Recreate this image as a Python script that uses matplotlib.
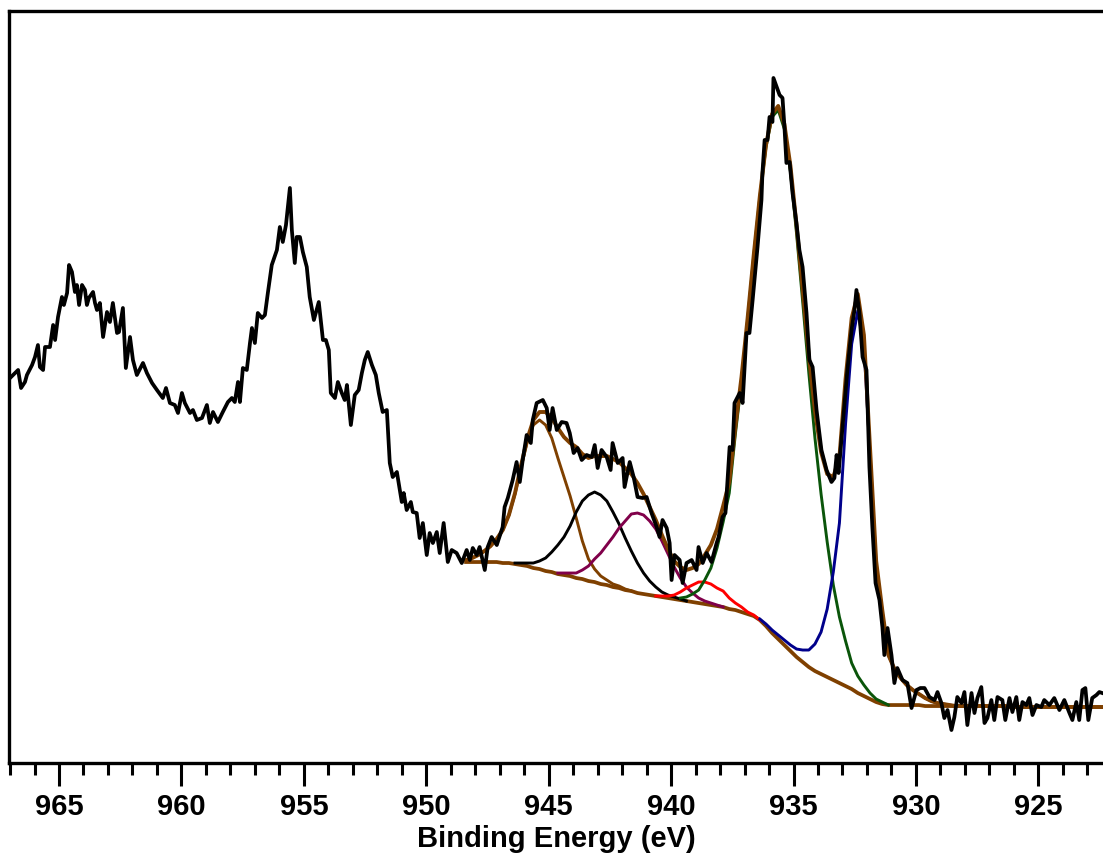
import numpy as np
import matplotlib
matplotlib.use('Agg')
import matplotlib.pyplot as plt
from matplotlib.ticker import MultipleLocator

plt.rcParams['font.family'] = ['Liberation Sans', 'DejaVu Sans']

# raw spectrum: binding energy (eV) and intensity (a.u.)
raw_be = [967.00, 966.67, 966.55, 966.39, 966.31, 966.10, 965.98, 965.86, 965.78, 965.65,
          965.57, 965.37, 965.24, 965.16, 965.04, 964.88, 964.80, 964.67, 964.59, 964.47,
          964.35, 964.27, 964.18, 964.06, 963.94, 963.86, 963.78, 963.61, 963.53, 963.45,
          963.33, 963.20, 963.04, 962.92, 962.80, 962.63, 962.55, 962.39, 962.27, 962.10,
          961.98, 961.82, 961.57, 961.41, 961.20, 961.00, 960.76, 960.63, 960.47, 960.27,
          960.14, 959.98, 959.86, 959.65, 959.53, 959.37, 959.16, 958.96, 958.84, 958.71,
          958.51, 958.31, 958.10, 957.94, 957.82, 957.69, 957.61, 957.49, 957.33, 957.20,
          957.12, 957.00, 956.88, 956.71, 956.59, 956.47, 956.31, 956.10, 955.98, 955.86,
          955.73, 955.57, 955.49, 955.37, 955.29, 955.16, 955.04, 954.88, 954.76, 954.59,
          954.39, 954.22, 954.10, 953.98, 953.90, 953.73, 953.61, 953.45, 953.33, 953.24,
          953.08, 952.92, 952.76, 952.63, 952.51, 952.39, 952.22, 952.06, 951.94, 951.78,
          951.61, 951.49, 951.37, 951.20, 951.00, 950.92, 950.80, 950.63, 950.55, 950.39,
          950.27, 950.14, 949.98, 949.86, 949.73, 949.57, 949.45, 949.29, 949.12, 948.96,
          948.76, 948.55, 948.35, 948.22, 948.10, 947.94, 947.82, 947.61, 947.49, 947.33,
          947.12, 946.88, 946.80, 946.67, 946.47, 946.31, 946.18, 946.06, 945.90, 945.73,
          945.65, 945.49, 945.24, 945.08, 944.96, 944.84, 944.67, 944.47, 944.27, 944.14,
          943.98, 943.82, 943.65, 943.45, 943.24, 943.12, 943.00, 942.84, 942.63, 942.47,
          942.39, 942.18, 941.98, 941.90, 941.69, 941.53, 941.37, 941.16, 941.00, 940.80,
          940.59, 940.47, 940.35, 940.18, 940.06, 939.98, 939.86, 939.65, 939.53, 939.37,
          939.16, 938.96, 938.88, 938.71, 938.55, 938.35, 938.14, 938.06, 937.90, 937.78,
          937.61, 937.49, 937.41, 937.20, 937.08, 936.92, 936.80, 936.67, 936.47, 936.31,
          936.27, 936.18, 936.06, 935.98, 935.86, 935.82, 935.69, 935.57, 935.45, 935.37,
          935.29, 935.16, 935.04, 934.88, 934.76, 934.63, 934.47, 934.35, 934.22, 934.06,
          933.86, 933.65, 933.45, 933.33, 933.24, 933.16, 933.00, 932.80, 932.63, 932.51,
          932.43, 932.31, 932.18, 932.02, 931.90, 931.78, 931.65, 931.49, 931.37, 931.29,
          931.16, 931.00, 930.88, 930.76, 930.55, 930.35, 930.18, 929.98, 929.82, 929.65,
          929.45, 929.24, 929.12, 928.96, 928.84, 928.71, 928.55, 928.43, 928.31, 928.14,
          928.02, 927.90, 927.73, 927.61, 927.49, 927.33, 927.20, 927.08, 926.92, 926.80,
          926.67, 926.47, 926.35, 926.18, 926.06, 925.90, 925.78, 925.65, 925.49, 925.37,
          925.24, 925.08, 924.88, 924.76, 924.55, 924.35, 924.14, 923.94, 923.73, 923.61,
          923.45, 923.33, 923.20, 923.08, 922.96, 922.80, 922.63, 922.51, 922.39]
raw_int = [387, 395, 377, 383, 390, 400, 408, 420, 398, 395,
           418, 418, 440, 425, 448, 468, 460, 472, 500, 493,
           473, 480, 460, 480, 475, 460, 467, 473, 462, 455,
           462, 428, 453, 443, 462, 432, 433, 457, 397, 428,
           405, 390, 402, 392, 382, 375, 367, 377, 362, 360,
           352, 372, 362, 352, 355, 345, 347, 360, 342, 353,
           343, 353, 363, 367, 363, 383, 363, 397, 395, 422,
           437, 422, 452, 447, 450, 472, 500, 515, 538, 523,
           540, 577, 535, 502, 528, 528, 513, 498, 468, 445,
           463, 425, 425, 415, 372, 367, 383, 372, 365, 380,
           340, 370, 375, 392, 405, 413, 400, 390, 372, 353,
           355, 302, 288, 293, 263, 272, 255, 263, 253, 252,
           227, 242, 210, 232, 222, 233, 212, 242, 203, 215,
           212, 202, 215, 205, 217, 210, 218, 195, 218, 228,
           220, 238, 258, 267, 285, 303, 283, 305, 330, 322,
           345, 362, 365, 357, 335, 357, 335, 343, 342, 332,
           312, 317, 305, 310, 308, 320, 297, 315, 308, 295,
           322, 302, 307, 278, 303, 288, 268, 267, 268, 252,
           238, 228, 245, 237, 222, 185, 210, 205, 182, 202,
           205, 195, 218, 202, 212, 203, 222, 228, 248, 252,
           318, 315, 362, 372, 362, 432, 432, 465, 518, 565,
           592, 625, 625, 648, 643, 687, 678, 670, 667, 638,
           602, 603, 572, 542, 515, 498, 452, 405, 398, 355,
           315, 295, 283, 287, 310, 292, 338, 395, 435, 455,
           475, 452, 408, 395, 298, 238, 182, 165, 138, 110,
           137, 110, 82, 97, 85, 82, 57, 75, 77, 77,
           68, 65, 73, 62, 47, 55, 35, 48, 68, 62,
           73, 40, 72, 52, 67, 78, 42, 47, 65, 45,
           68, 65, 45, 67, 53, 68, 45, 63, 60, 67,
           50, 60, 58, 65, 60, 67, 55, 65, 52, 45,
           63, 45, 75, 77, 45, 67, 70, 73, 72]

# fit: energy grid starts at fit_start and goes down in steps of fit_step
fit_start = 948.375
fit_step = 0.25
background = [203, 203, 203, 203, 203, 203, 202, 202, 201, 200,
              199, 197, 196, 194, 193, 191, 190, 189, 187, 186,
              184, 183, 181, 180, 178, 177, 175, 174, 172, 171,
              170, 169, 168, 167, 166, 165, 164, 163, 162, 161,
              160, 159, 158, 156, 155, 153, 151, 149, 145, 139,
              132, 126, 120, 114, 108, 103, 98, 94, 91, 88,
              85, 82, 79, 76, 72, 69, 66, 63, 61, 60,
              60, 60, 60, 60, 60, 59, 59, 59, 59, 59,
              59, 59, 59, 59, 59, 59, 59, 59, 59, 58,
              58, 58, 58, 58, 58, 58, 58, 58, 58, 58,
              58, 58, 58, 58, 58, 58]

# components: height above background, first point energy
sat1_start = 948.375
sat1 = [2, 4, 7, 11, 16, 23, 33, 48, 70, 98, 124, 143, 149, 146, 134, 116, 98, 80,
        60, 38, 22, 13, 8, 5, 3, 2, 1, 0]
sat2_start = 946.375
sat2 = [1, 2, 3, 5, 8, 13, 20, 29, 38, 50, 66, 78, 86, 90, 89, 84, 75, 64, 52, 40,
        30, 21, 14, 9, 5, 3, 2, 1, 0]
sat3_start = 944.625
sat3 = [1, 2, 3, 5, 9, 15, 23, 31, 40, 50, 60, 69, 77, 80, 79, 74, 67, 56, 44, 32,
        22, 14, 9, 5, 3, 2, 1, 0]
sat4_start = 940.625
sat4 = [0, 1, 2, 4, 8, 13, 17, 21, 22, 21, 18, 16, 11, 7, 5, 2, 1, 0]
main1_start = 939.625
main1 = [2, 4, 8, 13, 24, 37, 58, 85, 116, 176, 230, 294, 360, 423, 479, 516, 529,
         516, 479, 423, 360, 294, 233, 180, 135, 95, 66, 45, 26, 17, 11, 6, 3, 2, 0]
main2_start = 936.375
main2 = [1, 2, 3, 4, 5, 6, 8, 12, 17, 27, 42, 68, 108, 160, 262, 345, 382, 350, 245,
         138, 92, 50, 36, 27, 20, 15, 11, 8, 5, 3, 2, 1, 0]

components = [
    (sat1_start, sat1, '#7f4000'),
    (sat2_start, sat2, '#000000'),
    (sat3_start, sat3, '#80004a'),
    (sat4_start, sat4, '#ff0000'),
    (main1_start, main1, '#0a550a'),
    (main2_start, main2, '#00008b'),
]

fig = plt.figure(figsize=(11.03, 8.55), dpi=100)
ax = fig.add_axes([0.00843, 0.1072, 1.0 - 0.00843, 0.8794])

fit_be = fit_start - fit_step * np.arange(len(background))
bg = np.array(background, dtype=float)
envelope = bg.copy()

ax.plot(fit_be, bg, color='#7f4000', lw=2.7, zorder=2)
for start, vals, color in components:
    i0 = int(round((fit_start - start) / fit_step))
    seg = slice(i0, i0 + len(vals))
    vals = np.array(vals, dtype=float)
    envelope[seg] += vals
    ax.plot(fit_be[seg], bg[seg] + vals, color=color, lw=2.1, zorder=3)

ax.plot(fit_be, envelope, color='#7f4000', lw=2.8, zorder=4)
ax.plot(raw_be, raw_int, color='black', lw=2.7, zorder=5)

ax.set_xlim(967.03, 922.36)
ax.set_ylim(1.7, 753.5)
ax.set_yticks([])
ax.spines['right'].set_visible(False)
for s in ['left', 'top', 'bottom']:
    ax.spines[s].set_linewidth(2.4)

ax.xaxis.set_major_locator(MultipleLocator(5))
ax.xaxis.set_minor_locator(MultipleLocator(1))
ax.tick_params(axis='x', which='major', direction='out', length=16.8, width=2.2, pad=4.5)
ax.tick_params(axis='x', which='minor', direction='out', length=8.4, width=2.2)
for lab in ax.get_xticklabels():
    lab.set_fontsize(21)
    lab.set_fontweight('bold')

ax.set_xlabel('Binding Energy (eV)', fontsize=21, fontweight='bold', labelpad=3)

fig.savefig('out.png', dpi=100)
